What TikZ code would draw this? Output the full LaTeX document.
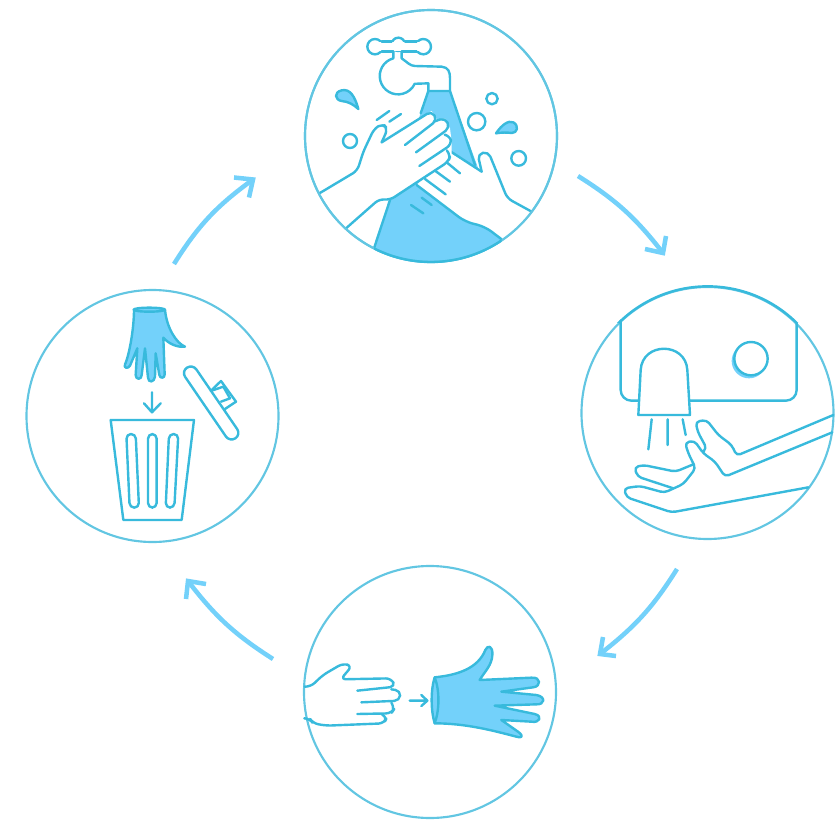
\documentclass[tikz,border=0pt]{standalone}
\usetikzlibrary{arrows.meta}
\definecolor{inkblue}{HTML}{38BADC}
\definecolor{ringblue}{HTML}{62C6E2}
\definecolor{waterblue}{HTML}{73D1FA}
\begin{document}
\begin{tikzpicture}[x=0.75pt,y=-0.75pt,line join=round,line cap=round,
 stepring/.style={circle,draw=ringblue,line width=1.6pt,minimum size=189pt,inner sep=0pt},
 stepflow/.style={draw=waterblue,line width=3.4pt,line cap=butt,line join=miter},
 ink/.style={draw=inkblue,line width=1.8pt},
 icon/.style={shift={#1},scale=1/3}]
\useasboundingbox (0,0) rectangle (839,821);
\node[stepring] (wash) at (431,136) {};
\node[stepring] (dry) at (707.5,413) {};
\node[stepring] (remove) at (430,692) {};
\node[stepring] (discard) at (152.5,416) {};
\coordinate (washout) at (578,176);
\coordinate (dryin) at (663,253);
\coordinate (dryout) at (677,569);
\coordinate (removein) at (600,654);
\coordinate (removeout) at (273,659);
\coordinate (discardin) at (188,581);
\coordinate (discardout) at (174,264);
\coordinate (washin) at (253,179.5);
\draw[stepflow] (washout) to[bend left=10] (dryin);
\draw[stepflow] ([shift={(-18,-4)}]dryin) -- (dryin) -- ([shift={(3,-17)}]dryin);
\draw[stepflow] (dryout) to[bend left=10] (removein);
\draw[stepflow] ([shift={(3,-17)}]removein) -- (removein) -- ([shift={(16,2)}]removein);
\draw[stepflow] (removeout) to[bend left=10] (discardin);
\draw[stepflow] ([shift={(18,3)}]discardin) -- (discardin) -- ([shift={(-2,18)}]discardin);
\draw[stepflow] (discardout) to[bend left=11] (washin);
\draw[stepflow] ([shift={(-19,-2)}]washin) -- (washin) -- ([shift={(-4,18)}]washin);
% washing hands
\begin{scope}[icon={(300,5)}]
\begin{scope}
\clip (393,393) circle[radius=378];
\fill[waterblue] (385,258)--(450,258)--(560,560)--(650,800)--(200,800)--(222,730)--(270,585)--(362,325)--cycle;
\draw[ink] (362,325)--(385,258)--(450,258)--(525,480);
\draw[ink] (270,585)--(222,730);
\fill[white] (350,540)--(445,440)--(545,500)--(535,440)--(580,440)--(622,580)--(695,620)--(800,700)--(605,703)--(555,665)--(495,650)--cycle;
\draw[ink] (445,435)--(545,500);
\draw[ink,rounded corners=4pt] (545,500)--(533,447)--(565,440)--(622,580)--(695,620);
\draw[ink,rounded corners=6pt] (350,540)--(495,650)--(555,665)--(605,703);
\draw[ink] (437,568)--(375,522) (450,530)--(405,497) (480,505)--(440,472);
\draw[ink] (333,600)--(370,625) (365,578)--(395,600);
\fill[white] (58,565)--(172,497)--(222,372)--(250,358)--(262,375)--(245,412)--(395,318)--(412,345)--(435,340)--(450,370)--(455,410)--(455,455)--(300,565)--(270,585)--(238,582)--(138,670)--cycle;
\draw[ink,rounded corners=4pt] (58,565)--(172,497)--(190,440)--(222,372)--(248,355)--(263,372)--(245,412);
\draw[ink,rounded corners=4pt] (245,412)--(395,318)--(412,345)--(315,420);
\draw[ink,rounded corners=4pt] (402,350)--(435,338)--(450,368)--(348,442);
\draw[ink,rounded corners=4pt] (438,390)--(450,392)--(455,418)--(358,483);
\draw[ink,rounded corners=4pt] (440,436)--(452,450)--(445,470)--(300,565)--(270,585)--(238,582)--(138,670);
\end{scope}
\draw[ringblue,line width=1.6pt] (393,393) circle[radius=378];
\begin{scope}
\clip (222,700) rectangle (605,790);
\draw[ink] (393,393) circle[radius=378];
\end{scope}
\draw[ink] (230,345)--(268,318) (268,350)--(303,327);
\filldraw[ink,fill=waterblue] (175,312) .. controls (165,275) and (150,250) .. (125,256) .. controls (100,262) and (105,285) .. (125,288) .. controls (145,290) and (160,298) .. (175,312);
\filldraw[ink,fill=waterblue] (588,385) .. controls (605,360) and (625,345) .. (640,352) .. controls (658,362) and (652,385) .. (635,384) .. controls (620,382) and (605,382) .. (588,385);
\draw[ink] (150,408) circle[radius=21] (530,350) circle[radius=26] (576,281) circle[radius=17] (656,460) circle[radius=22];
\draw[ink] (225,125) circle[radius=23] (370,125) circle[radius=23] (295,118) circle[radius=20];
\fill[white] (238,111) rectangle (357,139);
\draw[ink] (245,110)--(275,110) (315,110)--(350,110) (245,140)--(280,140) (305,140)--(350,140);
\draw[ink] (280,140)--(280,160) arc[start angle=255,end angle=25,radius=55] -- (385,235)--(385,258);
\draw[ink] (305,140)--(305,160) .. controls (320,170) and (330,183) .. (345,183) -- (425,185) .. controls (445,187) and (450,200) .. (450,220) -- (450,258);
\end{scope}
% drying hands
\begin{scope}[icon={(575,280)}]
\begin{scope}
\clip (0,0) rectangle (800,128);
\draw[ink] (398,399) circle[radius=380];
\end{scope}
\draw[ink,rounded corners=8pt] (137,122)--(137,362)--(665,362)--(665,130);
\filldraw[ink,fill=white] (190,405)--(345,405)--(337,270) .. controls (332,185) and (202,185) .. (197,270) -- cycle;
\fill[waterblue] (522,243) circle[radius=52];
\filldraw[ink,fill=white] (528,236) circle[radius=50];
\draw[ink] (230,418)--(220,508) (278,418)--(278,495) (323,418)--(332,465);
\draw[ink,rounded corners=3pt] (775,405)--(485,527)--(470,495)--(430,465)--(395,420)--(362,425)--(368,455)--(395,505)--(385,515);
\draw[ink,rounded corners=3pt] (772,457)--(450,590)--(420,545)--(385,520)--(358,482)--(330,488)--(340,520)--(362,565)--(325,612)--(268,638)--(195,618)--(147,625)--(155,652)--(290,697)--(700,622);
\draw[ink,rounded corners=3pt] (355,553)--(302,575)--(205,555)--(178,562)--(188,590)--(295,625);
\end{scope}
% taking off the glove
\begin{scope}[icon={(298,560)}]
\draw[ink,rounded corners=4pt] (20,380)--(38,380)--(75,345)--(135,310)--(162,318)--(128,358)--(280,355)--(292,380)--(178,392);
\draw[ink,rounded corners=4pt] (280,388)--(308,392)--(305,422)--(190,427);
\draw[ink,rounded corners=4pt] (280,428)--(290,445)--(280,460)--(178,462);
\draw[ink,rounded corners=4pt] (250,462)--(268,470)--(258,490)--(85,497)--(45,490)--(35,475)--(22,475);
\draw[ink] (335,422)--(388,422) (370,405)--(388,422)--(370,438);
\filldraw[ink,fill=waterblue] (410,352) .. controls (480,345) and (540,325) .. (562,270) .. controls (568,255) and (585,255) .. (583,285) .. controls (582,315) and (560,335) .. (545,360) -- (700,353) .. controls (730,350) and (730,380) .. (705,382) -- (610,395) -- (715,405) .. controls (745,410) and (740,435) .. (715,433) -- (590,437) -- (710,462) .. controls (735,468) and (725,490) .. (700,485) -- (610,480) -- (660,515) .. controls (680,530) and (670,535) .. (655,530) .. controls (580,510) and (500,490) .. (410,490) .. controls (398,450) and (398,390) .. (410,352) -- cycle;
\draw[ink] (410,352) .. controls (425,390) and (425,450) .. (410,490);
\end{scope}
% throwing it away
\begin{scope}[icon={(20,285)}]
\filldraw[ink,fill=waterblue] (342,74) .. controls (342,130) and (328,210) .. (315,238) .. controls (310,250) and (325,252) .. (330,242) -- (352,190) -- (347,270) .. controls (347,285) and (365,285) .. (365,270) -- (375,190) -- (384,278) .. controls (385,295) and (403,292) .. (405,275) -- (407,205) -- (418,270) .. controls (420,282) and (435,280) .. (434,268) -- (430,158) .. controls (445,175) and (470,188) .. (495,185) .. controls (470,175) and (440,130) .. (435,74) -- cycle;
\filldraw[ink,fill=waterblue] (388,74) ellipse[x radius=47,y radius=6];
\draw[ink] (396,322)--(396,382) (372,355)--(396,382)--(422,355);
\draw[ink] (272,405)--(522,405)--(485,705)--(310,705)--cycle;
\draw[ink,rounded corners=3.5pt] (319,447)--(347,447)--(357,668)--(329,668)--cycle;
\draw[ink,rounded corners=3.5pt] (384,447)--(410,447)--(410,668)--(384,668)--cycle;
\draw[ink,rounded corners=3.5pt] (447,447)--(475,447)--(463,668)--(437,668)--cycle;
\draw[ink,rounded corners=5pt] (518,237)--(484,259)--(629,471)--(663,449)--cycle;
\draw[ink] (572,318)--(603,288)--(648,350)--(615,372);
\draw[ink] (578,316)--(610,305)--(630,340)--(603,350);
\end{scope}
\end{tikzpicture}
\end{document}
